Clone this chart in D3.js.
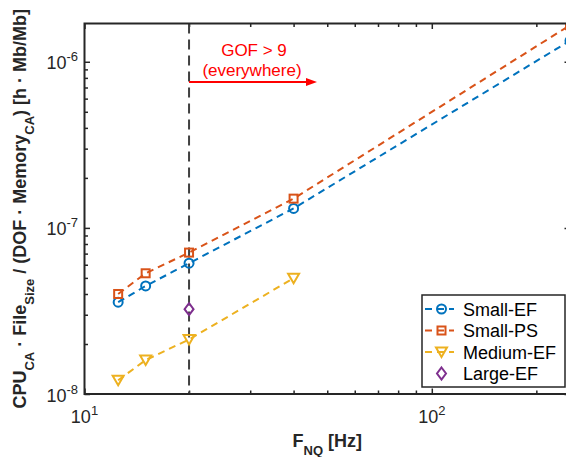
<!DOCTYPE html>
<html>
<head>
<meta charset="utf-8">
<script src="https://cdn.jsdelivr.net/npm/d3@7"></script>
<style>
  html, body { margin: 0; padding: 0; background: #fff; }
  svg { display: block; font-family: "Liberation Sans", Arial, Helvetica, sans-serif; }
</style>
</head>
<body>
<svg id="chart" width="566" height="457"></svg>
<script>
// ---------------- data ----------------
const freqSmall = [12.5, 15, 20, 40, 250];
const smallEF   = [3.57e-8, 4.47e-8, 6.13e-8, 1.31e-7, 1.34e-6];
const smallPS   = [4.0e-8, 5.33e-8, 7.1e-8, 1.50e-7, 1.66e-6];
const freqMedium = [12.5, 15, 20, 40];
const mediumEF   = [1.21e-8, 1.6e-8, 2.13e-8, 4.98e-8];
const freqLarge = [20];
const largeEF   = [3.24e-8];
const seriesNames = ["Small-EF", "Small-PS", "Medium-EF", "Large-EF"];
const xDomain = [10, 250];
const yDomain = [1e-8, 1.7e-6];
const xMajorTicks = [10, 100];
const yMajorTicks = [1e-8, 1e-7, 1e-6];
const gofLine = 20;
const annotation = ["GOF > 9", "(everywhere)"];

// ---------------- layout ----------------
const svg = d3.select("#chart");
const L = 84.5, R = 570, T = 23.5, B = 394;
const x = d3.scaleLog().domain(xDomain).range([L, R]);
const y = d3.scaleLog().domain(yDomain).range([B, T]);
const axisColor = "#262626";
const colors = ["#0072BD", "#D95319", "#EDB120", "#7E2F8E"];

svg.append("defs").append("clipPath").attr("id", "clip")
  .append("rect").attr("x", L).attr("y", T).attr("width", R - L).attr("height", B - T);

// ---------------- ticks ----------------
const isMajor = v => Math.abs(Math.log10(v) - Math.round(Math.log10(v))) < 1e-9;
const xAll = x.ticks();
const yAll = y.ticks();
const xMinor = xAll.filter(v => !isMajor(v));
const yMinor = yAll.filter(v => !isMajor(v));

function drawAxis(gen, transform, values, size) {
  const g = svg.append("g").attr("transform", transform)
    .call(gen.tickValues(values).tickSize(size).tickSizeOuter(0).tickFormat(""));
  g.select(".domain").remove();
  g.selectAll(".tick line").attr("stroke", axisColor).attr("stroke-width", 1.5);
}
drawAxis(d3.axisBottom(x), `translate(0,${B})`, xMajorTicks, -5.5);
drawAxis(d3.axisBottom(x), `translate(0,${B})`, xMinor, -3.5);
drawAxis(d3.axisTop(x), `translate(0,${T})`, xMajorTicks, -5.5);
drawAxis(d3.axisTop(x), `translate(0,${T})`, xMinor, -3.5);
drawAxis(d3.axisLeft(y), `translate(${L},0)`, yMajorTicks, -5.5);
drawAxis(d3.axisLeft(y), `translate(${L},0)`, yMinor, -3.5);
drawAxis(d3.axisRight(y), `translate(${R},0)`, yMajorTicks, -5.5);
drawAxis(d3.axisRight(y), `translate(${R},0)`, yMinor, -3.5);

// tick labels
const tickFont = 18, supFont = 13;
xMajorTicks.forEach(v => {
  const t = svg.append("text").attr("x", x(v)).attr("y", 423)
    .attr("text-anchor", "middle").attr("font-size", tickFont).attr("fill", axisColor);
  t.append("tspan").text("10");
  t.append("tspan").attr("font-size", supFont).attr("dy", -8).text(Math.round(Math.log10(v)));
});
yMajorTicks.forEach(v => {
  const t = svg.append("text").attr("x", 78).attr("y", y(v) + 7.5)
    .attr("text-anchor", "end").attr("font-size", tickFont).attr("fill", axisColor);
  t.append("tspan").text("10");
  t.append("tspan").attr("font-size", supFont).attr("dy", -8).text("-" + Math.abs(Math.round(Math.log10(v))));
});

// ---------------- axis labels ----------------
const xl = svg.append("text").attr("x", (L + R) / 2).attr("y", 447)
  .attr("text-anchor", "middle").attr("font-size", 18).attr("font-weight", "bold").attr("fill", axisColor);
xl.append("tspan").text("F");
xl.append("tspan").attr("font-size", 13).attr("dy", 8).text("NQ");
xl.append("tspan").attr("dy", -8).text(" [Hz]");

const yl = svg.append("text")
  .attr("transform", `translate(26,${(T + B) / 2}) rotate(-90)`)
  .attr("text-anchor", "middle").attr("font-size", 18).attr("font-weight", "bold").attr("fill", axisColor);
const ylParts = [
  ["CPU", 0], ["CA", 1], [" \u00B7 File", 0], ["Size", 1], [" / (DOF \u00B7 Memory", 0], ["CA", 1], [") [h \u00B7 Mb/Mb]", 0]
];
let prevSub = 0;
ylParts.forEach(([s, sub]) => {
  const dy = (sub - prevSub) * 8;
  const ts = yl.append("tspan").attr("dy", dy).text(s);
  if (sub) ts.attr("font-size", 13);
  prevSub = sub;
});

// ---------------- vertical GOF line ----------------
svg.append("line")
  .attr("x1", x(gofLine)).attr("x2", x(gofLine)).attr("y1", T).attr("y2", B)
  .attr("stroke", "#404040").attr("stroke-width", 2).attr("stroke-dasharray", "10,6");

// ---------------- series ----------------
const plot = svg.append("g").attr("clip-path", "url(#clip)");
const line = d3.line().x(d => x(d[0])).y(d => y(d[1]));
function series(xs, ys, i, marker, withLine) {
  const pts = xs.map((v, k) => [v, ys[k]]);
  if (withLine) {
    plot.append("path").datum(pts).attr("d", line)
      .attr("fill", "none").attr("stroke", colors[i]).attr("stroke-width", 2)
      .attr("stroke-dasharray", "7,5");
  }
  pts.forEach(p => drawMarker(plot, marker, x(p[0]), y(p[1]), colors[i]));
}
function drawMarker(g, m, cx, cy, c) {
  const st = { fill: "none", stroke: c, "stroke-width": 2 };
  let el;
  if (m === "circle") el = g.append("circle").attr("cx", cx).attr("cy", cy).attr("r", 4.5);
  else if (m === "square") el = g.append("rect").attr("x", cx - 4).attr("y", cy - 4).attr("width", 8).attr("height", 8);
  else if (m === "tri") el = g.append("path").attr("d", `M${cx - 5.5},${cy - 4.5}L${cx + 5.5},${cy - 4.5}L${cx},${cy + 5}Z`);
  else el = g.append("path").attr("d", `M${cx},${cy - 6}L${cx + 4.5},${cy}L${cx},${cy + 6}L${cx - 4.5},${cy}Z`);
  Object.entries(st).forEach(([k, v]) => el.attr(k, v));
}
series(freqSmall, smallEF, 0, "circle", true);
series(freqSmall, smallPS, 1, "square", true);
series(freqMedium, mediumEF, 2, "tri", true);
series(freqLarge, largeEF, 3, "diamond", false);

// ---------------- annotation ----------------
const red = "#FF0000";
const ax0 = x(gofLine), ax1 = 317, ay = 82;
svg.append("line").attr("x1", ax0).attr("x2", ax1 - 8).attr("y1", ay).attr("y2", ay)
  .attr("stroke", red).attr("stroke-width", 2);
svg.append("path").attr("d", `M${ax1},${ay}L${ax1 - 11},${ay - 4}L${ax1 - 11},${ay + 4}Z`).attr("fill", red);
svg.append("text").attr("x", 254).attr("y", 56).attr("text-anchor", "middle")
  .attr("font-size", 17).attr("fill", red).text(annotation[0]);
svg.append("text").attr("x", 252).attr("y", 76).attr("text-anchor", "middle")
  .attr("font-size", 17).attr("fill", red).text(annotation[1]);

// ---------------- outer box ----------------
svg.append("rect").attr("x", L).attr("y", T).attr("width", R - L).attr("height", B - T)
  .attr("fill", "none").attr("stroke", axisColor).attr("stroke-width", 2);

// ---------------- legend ----------------
const lg = svg.append("g");
lg.append("rect").attr("x", 422).attr("y", 295).attr("width", 143).attr("height", 92)
  .attr("fill", "#fff").attr("stroke", axisColor).attr("stroke-width", 1.5);
const markers = ["circle", "square", "tri", "diamond"];
seriesNames.forEach((name, i) => {
  const ry = 309 + i * 21.5;
  if (i < 3) {
    lg.append("line").attr("x1", 425).attr("x2", 454).attr("y1", ry).attr("y2", ry)
      .attr("stroke", colors[i]).attr("stroke-width", 2).attr("stroke-dasharray", "7,5");
  }
  drawMarker(lg, markers[i], 441.5, ry, colors[i]);
  lg.append("text").attr("x", 463).attr("y", ry + 6.5).attr("font-size", 18)
    .attr("fill", "#000").text(name);
});
</script>
</body>
</html>
